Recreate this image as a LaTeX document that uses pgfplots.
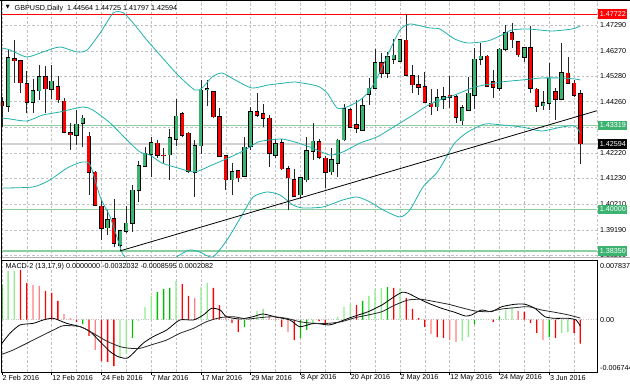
\documentclass[border=0pt]{standalone}
\usepackage{pgfplots}
\usepackage{pgfplotstable}
\pgfplotsset{compat=1.18}
\usepackage{fontspec}
\setmainfont{Liberation Sans}
\newfontfamily\symfont{DejaVu Sans}
\definecolor{bullc}{RGB}{60,179,113}
\definecolor{bearc}{RGB}{255,0,0}
\definecolor{bbc}{RGB}{32,178,170}
\definecolor{lvl}{RGB}{140,208,160}
\definecolor{lvlbox}{RGB}{60,179,113}
\definecolor{histG}{RGB}{0,190,0}
\definecolor{histLG}{RGB}{144,238,144}
\definecolor{histR}{RGB}{255,0,0}
\definecolor{histLR}{RGB}{255,128,128}
\definecolor{gridc}{RGB}{192,192,192}
\newcommand\lbl{\fontsize{7.2}{8}\selectfont}

\pgfplotstableread{
i o h l c
1 1.44088 1.46341 1.43851 1.45985
5 1.44246 1.45155 1.43811 1.44681
6 1.44681 1.45709 1.44325 1.45234
8 1.44760 1.45709 1.44364 1.45076
12 1.42942 1.43930 1.42546 1.43376
13 1.43416 1.43732 1.42467 1.43613
17 1.39265 1.39977 1.38988 1.39581
19 1.38593 1.39186 1.38356 1.39147
20 1.39147 1.40135 1.39068 1.39463
21 1.39463 1.40965 1.39107 1.40767
22 1.40767 1.41914 1.40293 1.41716
23 1.41716 1.42467 1.41677 1.42230
24 1.42190 1.42863 1.41281 1.42625
27 1.42151 1.43179 1.41163 1.42823
28 1.42783 1.44364 1.42507 1.43692
31 1.41479 1.42744 1.40491 1.42507
32 1.42507 1.45116 1.42190 1.44720
33 1.44740 1.45116 1.44088 1.44760
37 1.41163 1.41835 1.40570 1.41479
39 1.41321 1.42863 1.41281 1.42467
40 1.42507 1.44049 1.42348 1.43851
44 1.42151 1.42783 1.42032 1.42586
48 1.40570 1.41281 1.40412 1.41242
49 1.41163 1.42863 1.41084 1.42309
50 1.42309 1.43416 1.41953 1.42704
53 1.41479 1.42428 1.41360 1.41953
54 1.41835 1.42783 1.41281 1.42744
55 1.42744 1.44167 1.42704 1.43969
58 1.43139 1.44404 1.43100 1.44088
59 1.44562 1.45195 1.44127 1.44799
60 1.44799 1.46342 1.44760 1.45788
62 1.45392 1.46222 1.45195 1.46025
63 1.45946 1.46736 1.45748 1.46104
64 1.45867 1.46736 1.45827 1.46717
70 1.44049 1.44760 1.43890 1.44404
71 1.44364 1.44839 1.43969 1.44444
74 1.43495 1.44127 1.43337 1.44009
75 1.43930 1.45234 1.43890 1.44601
76 1.44523 1.46381 1.43969 1.45946
77 1.45946 1.46578 1.45709 1.46064
80 1.44799 1.46381 1.44681 1.46341
81 1.46341 1.47290 1.46262 1.46974
84 1.46025 1.46420 1.45827 1.46381
87 1.44088 1.44681 1.43930 1.44206
88 1.44206 1.45788 1.43930 1.45195
90 1.44364 1.46578 1.44325 1.45392
}\tbull

\pgfplotstableread{
i o h l c
0 1.44258 1.44455 1.43269 1.44088
2 1.45946 1.46697 1.44997 1.45867
3 1.45867 1.45906 1.44601 1.44997
4 1.44958 1.45472 1.43811 1.44246
7 1.45234 1.45669 1.43811 1.44760
9 1.44839 1.45274 1.44206 1.44325
10 1.44285 1.44404 1.43020 1.43060
11 1.43020 1.43416 1.42348 1.42942
14 1.42902 1.43060 1.40570 1.41479
15 1.41479 1.41519 1.40175 1.40175
16 1.40135 1.40372 1.38791 1.39265
18 1.39621 1.40412 1.38514 1.38672
25 1.42625 1.42744 1.42032 1.42151
26 1.42151 1.42428 1.41835 1.42131
29 1.43772 1.43851 1.42863 1.42942
30 1.43020 1.43060 1.41439 1.41519
34 1.44641 1.44681 1.43613 1.43653
35 1.43653 1.44009 1.42072 1.42111
36 1.42111 1.42151 1.40767 1.41163
38 1.41519 1.41558 1.41084 1.41242
41 1.43851 1.44601 1.43653 1.43732
42 1.43772 1.44167 1.43258 1.43613
43 1.43613 1.43732 1.41677 1.42230
45 1.42625 1.42783 1.41558 1.41598
46 1.41598 1.41716 1.39977 1.41242
47 1.41163 1.41598 1.40491 1.40530
51 1.42665 1.42783 1.41993 1.42072
52 1.42032 1.42111 1.40846 1.41479
56 1.43930 1.44009 1.43218 1.43258
57 1.43337 1.44325 1.43020 1.43218
61 1.45788 1.46183 1.45195 1.45392
65 1.46697 1.47722 1.45274 1.45313
66 1.45274 1.45709 1.44601 1.44918
67 1.44918 1.45313 1.44523 1.44839
68 1.44839 1.45432 1.44246 1.44246
69 1.44206 1.44760 1.43732 1.44049
72 1.44523 1.45274 1.44009 1.44444
73 1.44444 1.44523 1.43416 1.43653
78 1.46064 1.46104 1.44839 1.44878
79 1.45037 1.45511 1.44404 1.44839
82 1.46974 1.47369 1.46381 1.46697
83 1.46618 1.46657 1.46025 1.46104
85 1.46381 1.47250 1.44601 1.44799
86 1.44760 1.44799 1.43851 1.44088
89 1.44641 1.44799 1.43534 1.44364
91 1.45392 1.46025 1.44958 1.44997
92 1.44997 1.45116 1.44444 1.44523
93 1.44564 1.44725 1.41797 1.42594
}\tbear

\pgfplotsset{
  mt/.style={
    scale only axis, width=596pt, xmin=-0.145, xmax=95.68,
    clip mode=individual,
    grid style={gridc, dash pattern=on 2.5pt off 2pt, line width=0.5pt},
    tick style={black, line width=0.6pt},
  },
  wick/.style={draw=none, mark=none, forget plot, error bars/.cd, y dir=both, y explicit, error mark=none,
    error bar style={draw=black!85, line width=0.7pt}},
  bodyo/.style={draw=none, mark=none, forget plot, error bars/.cd, y dir=both, y explicit, error mark=none,
    error bar style={draw=black, line width=4.4pt}},
  bodyf/.style={draw=none, mark=none, forget plot, error bars/.cd, y dir=both, y explicit, error mark=none,
    error bar style={draw=#1, line width=3.0pt}},
  hist/.style={ybar, bar width=1.3pt, bar shift=0pt, fill=#1, draw=none, mark=none},
}
\tikzset{
  rl/.style={anchor=west, inner sep=0pt, font=\lbl, xshift=3pt},
  bx/.style={anchor=west, inner xsep=1.6pt, inner ysep=0pt, minimum height=9.5pt, font=\lbl, text=white, fill=#1, xshift=1pt},
}

\begin{document}
\begin{tikzpicture}[x=1pt,y=1pt]
\useasboundingbox (0,0) rectangle (630,388);
\fill[white] (0,0) rectangle (630,388);

% ---------------- main price panel ----------------
\begin{axis}[mt, at={(1pt,130pt)}, anchor=south west, height=257pt,
  axis line style={draw=none},
  ymin=1.38079, ymax=1.48238,
  xtick={0,4,...,92}, xticklabels={},
  ytick={1.3820,1.3919,1.4021,1.4123,1.4222,1.4324,1.4426,1.4528,1.4627,1.4729}, yticklabels={},
  xmajorgrids, ymajorgrids, major tick length=0pt]

\addplot[gray!35, line width=1.6pt, mark=none] coordinates {(-1,1.42594) (97,1.42594)};
\addplot[lvl, line width=1.6pt, mark=none] coordinates {(-1,1.43319) (97,1.43319)};
\addplot[lvl, line width=1.6pt, mark=none] coordinates {(-1,1.40000) (97,1.40000)};
\addplot[lvl, line width=1.6pt, mark=none] coordinates {(-1,1.38350) (97,1.38350)};
\addplot[red, line width=0.9pt, mark=none] coordinates {(-1,1.47722) (97,1.47722)};

% wicks
\addplot[wick] table[x=i, y expr={(\thisrow{h}+\thisrow{l})/2}, y error expr={(\thisrow{h}-\thisrow{l})/2}] {\tbull};
\addplot[wick] table[x=i, y expr={(\thisrow{h}+\thisrow{l})/2}, y error expr={(\thisrow{h}-\thisrow{l})/2}] {\tbear};
% bodies
\addplot[bodyo] table[x=i, y expr={(\thisrow{o}+\thisrow{c})/2}, y error expr={abs(\thisrow{c}-\thisrow{o})/2+0.0002}] {\tbull};
\addplot[bodyf=bullc] table[x=i, y expr={(\thisrow{o}+\thisrow{c})/2}, y error expr={abs(\thisrow{c}-\thisrow{o})/2}] {\tbull};
\addplot[bodyo] table[x=i, y expr={(\thisrow{o}+\thisrow{c})/2}, y error expr={abs(\thisrow{c}-\thisrow{o})/2+0.0002}] {\tbear};
\addplot[bodyf=bearc] table[x=i, y expr={(\thisrow{o}+\thisrow{c})/2}, y error expr={abs(\thisrow{c}-\thisrow{o})/2}] {\tbear};

% Bollinger bands
\addplot[bbc, line width=0.8pt, smooth, tension=0.4, mark=none] coordinates {(0,1.46381) (1.3,1.46302) (4.0,1.46025) (6.6,1.46222) (9.3,1.46420) (12.1,1.46222) (13.7,1.46302) (15.8,1.46974) (17.9,1.47764) (19.5,1.47776) (21.1,1.47369) (23.3,1.46697) (25.7,1.46025) (28.3,1.45313) (31.0,1.44720) (32.2,1.44799) (33.8,1.45234) (35.4,1.45392) (37.5,1.45116) (40.2,1.44799) (42.8,1.44918) (45.5,1.44997) (47.1,1.45037) (50.7,1.44878) (52.3,1.44601) (53.9,1.44009) (55.5,1.44049) (57.6,1.44325) (59.2,1.44720) (60.8,1.45432) (62.4,1.46302) (64.0,1.47092) (65.6,1.47329) (68.8,1.47171) (70.4,1.47132) (72.8,1.46736) (74.9,1.46578) (78.1,1.46657) (80.4,1.46895) (82.0,1.47092) (84.6,1.47132) (88.4,1.47053) (91.7,1.47132) (93,1.47250)};
\addplot[bbc, line width=0.8pt, smooth, tension=0.4, mark=none] coordinates {(0,1.43613) (1.3,1.43574) (4.0,1.43495) (6.6,1.43732) (9.3,1.43851) (13.0,1.44048) (14.6,1.43930) (17.4,1.43416) (20.1,1.42744) (22.2,1.42269) (23.8,1.42151) (25.7,1.41835) (28.3,1.41637) (31.0,1.41479) (33.8,1.41756) (36.4,1.42032) (39.1,1.42348) (41.2,1.42665) (43.1,1.42744) (45.0,1.42783) (47.1,1.42665) (49.5,1.42467) (52.7,1.42151) (54.8,1.42269) (57.6,1.42625) (60.3,1.42863) (63.5,1.43337) (66.1,1.43732) (68.3,1.44088) (70.4,1.44325) (72.8,1.44523) (76.1,1.44839) (80.4,1.45037) (83.6,1.45116) (86.8,1.45195) (90.0,1.45195) (92.1,1.45155) (93,1.45116)};
\addplot[bbc, line width=0.8pt, smooth, tension=0.4, mark=none] coordinates {(0,1.40846) (5.0,1.40886) (7.7,1.41163) (10.5,1.41637) (12.9,1.41874) (14.2,1.41756) (15.8,1.40491) (17.4,1.39700) (18.5,1.38909) (19.5,1.38198) (21.4,1.37842) (23.8,1.37723) (26.2,1.37763) (28.3,1.38158) (30.2,1.38395) (31.8,1.38316) (33.9,1.38119) (36.2,1.38791) (38.8,1.39858) (40.4,1.40491) (42.6,1.40688) (44.7,1.40570) (46.8,1.40175) (48.4,1.40056) (51.6,1.40096) (54.8,1.40372) (57.1,1.40491) (59.2,1.40293) (61.3,1.39977) (64.0,1.39700) (65.6,1.39977) (67.7,1.40886) (69.9,1.41439) (71.2,1.41953) (72.8,1.42625) (74.9,1.43060) (77.7,1.43376) (80.4,1.43337) (83.6,1.43258) (86.8,1.43100) (90.0,1.43258) (92.1,1.43297) (93,1.43020)};

% trend line
\addplot[black, line width=0.8pt, mark=none] coordinates {(19,1.3836) (95.68,1.43901)};

% price scale labels
\node[rl] at (axis cs:95.68,1.4729) {1.47290};
\node[rl] at (axis cs:95.68,1.4627) {1.46270};
\node[rl] at (axis cs:95.68,1.4528) {1.45280};
\node[rl] at (axis cs:95.68,1.4426) {1.44260};
\node[rl] at (axis cs:95.68,1.4222) {1.42220};
\node[rl] at (axis cs:95.68,1.4123) {1.41230};
\node[rl] at (axis cs:95.68,1.4021) {1.40210};
\node[rl] at (axis cs:95.68,1.3919) {1.39190};
\node[rl] at (axis cs:95.68,1.3820) {1.38200};
\node[bx=red] at (axis cs:95.68,1.47722) {1.47722};
\node[bx=lvlbox] at (axis cs:95.68,1.43319) {1.43319};
\node[bx=black] at (axis cs:95.68,1.42594) {1.42594};
\node[bx=lvlbox] at (axis cs:95.68,1.40000) {1.40000};
\node[bx=lvlbox] at (axis cs:95.68,1.38350) {1.38350};
\end{axis}

% separator above MACD
\draw[gray!60, line width=0.6pt] (0,131) -- (630,131);

% ---------------- MACD panel ----------------
\begin{axis}[mt, at={(1pt,16pt)}, anchor=south west, height=112pt,
  axis line style={black, line width=0.9pt},
  ymin=-0.00701, ymax=0.007973,
  xtick={0,8,...,88}, xticklabels={}, minor xtick={4,12,...,92},
  xtick pos=left, tick align=outside, major tick length=3pt, minor tick length=0pt,
  ytick=\empty, xmajorgrids, xminorgrids]

\addplot[gridc, dash pattern=on 1pt off 1.5pt, line width=0.6pt, mark=none] coordinates {(-1,0) (97,0)};

\addplot[hist=histG] coordinates {(0,0.00463) (13,-0.00059) (21,-0.00246) (25,0.00369) (26,0.00409) (27,0.00423) (39,-0.00099) (48,-0.00246) (49,-0.00139) (58,0.00249) (62,0.00436) (76,-0.00059) (80,0.00035) (88,-0.00233)};
\addplot[hist=histLG] coordinates {(1,0.00650) (2,0.00650) (19,-0.00514) (20,-0.00460) (22,-0.00019) (23,0.00169) (24,0.00316) (28,0.00516) (32,0.00436) (33,0.00490) (40,0.00005) (41,0.00115) (42,0.00142) (50,-0.00059) (53,-0.00005) (54,0.00035) (55,0.00169) (56,0.00209) (59,0.00316) (60,0.00409) (61,0.00423) (64,0.00423) (74,-0.00286) (75,-0.00233) (77,0.00005) (81,0.00128) (82,0.00169) (90,-0.00179) (91,-0.00166)};
\addplot[hist=histR] coordinates {(3,0.00664) (4,0.00490) (7,0.00383) (8,0.00356) (9,0.00249) (12,-0.00032) (14,-0.00219) (16,-0.00554) (17,-0.00567) (18,-0.00621) (29,0.00476) (30,0.00316) (34,0.00423) (35,0.00195) (37,-0.00045) (38,-0.00166) (45,-0.00099) (47,-0.00273) (51,-0.00019) (52,-0.00045) (57,0.00195) (63,0.00423) (65,0.00289) (66,0.00142) (67,0.00021) (68,-0.00099) (70,-0.00233) (71,-0.00246) (79,-0.00032) (84,0.00102) (85,-0.00045) (86,-0.00179) (89,-0.00246) (92,-0.00179) (93,-0.00320)};
\addplot[hist=histLR] coordinates {(5,0.00463) (6,0.00449) (10,0.00075) (11,0.00021) (15,-0.00406) (31,0.00289) (36,0.00035) (43,0.00035) (44,0.00021) (46,-0.00166) (69,-0.00193) (72,-0.00273) (73,-0.00300) (83,0.00115) (87,-0.00273)};

% MACD line
\addplot[black, line width=0.8pt, smooth, tension=0.4, mark=none] coordinates {(0,-0.00317) (1.3,-0.00183) (2.9,-0.00072) (5.05,-0.00050) (6.66,-0.00005) (8.27,0.00017) (10.4,-0.00050) (12.6,-0.00095) (14.2,-0.00162) (15.8,-0.00296) (17.4,-0.00429) (18.7,-0.00496) (20.1,-0.00518) (21.1,-0.00451) (22.7,-0.00317) (24.3,-0.00229) (26.5,-0.00139) (28.6,-0.00005) (30.8,-0.00005) (32.4,0.00062) (33.7,0.00151) (35.1,0.00128) (36.1,0.00039) (38.3,0.00008) (40.4,0.00039) (42.0,0.00075) (44.2,0.00031) (46.3,-0.00005) (47.9,-0.00095) (50.2,-0.00050) (52.5,-0.00072) (53.6,-0.00050) (55.7,0.00017) (57.3,0.00062) (58.9,0.00106) (61.1,0.00195) (62.7,0.00285) (64.3,0.00365) (65.3,0.00352) (66.9,0.00285) (68.6,0.00218) (70.7,0.00151) (72.8,0.00098) (74.5,0.00048) (75.5,0.00062) (77.1,0.00128) (78.7,0.00106) (80.4,0.00173) (82.5,0.00205) (84.1,0.00205) (85.7,0.00151) (87.3,0.00039) (88.9,0.00017) (91.1,0.00017) (92.3,-0.00005) (93,-0.00086)};
% signal line
\addplot[black!85, line width=0.8pt, smooth, tension=0.4, mark=none] coordinates {(0,-0.00465) (1.8,-0.00407) (4.0,-0.00317) (6.1,-0.00229) (8.3,-0.00139) (9.9,-0.00081) (12.6,-0.00095) (14.7,-0.00184) (16.8,-0.00286) (19.0,-0.00362) (20.6,-0.00384) (22.2,-0.00384) (24.3,-0.00331) (26.5,-0.00273) (28.6,-0.00184) (30.8,-0.00117) (32.9,-0.00028) (35.1,0.00026) (37.2,0.00039) (39.4,0.00008) (41.5,0.00026) (43.6,0.00039) (45.8,0.00017) (47.9,-0.00028) (50.1,-0.00050) (52.5,-0.00050) (54.6,-0.00028) (56.8,0.00026) (58.9,0.00062) (61.1,0.00106) (63.2,0.00195) (65.3,0.00262) (67.5,0.00271) (69.6,0.00240) (71.8,0.00205) (73.9,0.00159) (76.1,0.00115) (78.2,0.00106) (80.4,0.00142) (82.5,0.00159) (84.6,0.00173) (86.8,0.00128) (88.9,0.00098) (91.1,0.00062) (93,0.00021)};

\node[rl, yshift=-5pt] at (axis cs:95.68,0.007837) {0.007837};
\node[rl] at (axis cs:95.68,0) {0.00};
\node[rl, yshift=2pt] at (axis cs:95.68,-0.006744) {-0.006744};
\end{axis}

% frame pieces of the main panel
\draw[gridc, dash pattern=on 2.5pt off 2pt, line width=0.5pt] (597,130) -- (597,387);
\draw[black, line width=0.9pt] (1,16) -- (1,387.5);
\draw[black, line width=0.9pt] (0,387.5) -- (630,387.5);

% titles
\node[anchor=center, inner sep=0pt, font=\symfont\fontsize{5}{6}\selectfont] at (7.8,381) {▼};
\node[anchor=west, inner sep=0pt, font=\lbl] at (14.5,379.7) {GBPUSD,Daily\ \ 1.44564 1.44725 1.41797 1.42594};
\node[anchor=west, inner sep=0pt, font=\lbl] at (5.5,121.3) {MACD-2 (13,17,9) 0.0000000 -0.0032032 -0.0008595 0.0002082};

% date labels
\foreach \xx/\dd in {1.9/2 Feb 2016, 51.66/12 Feb 2016, 101.4/24 Feb 2016, 151.2/7 Mar 2016, 200.9/17 Mar 2016, 250.7/29 Mar 2016, 300.5/8 Apr 2016, 350.2/20 Apr 2016, 400.0/2 May 2016, 449.7/12 May 2016, 499.5/24 May 2016, 549.3/3 Jun 2016}
  \node[anchor=west, inner sep=0pt, font=\lbl] at (\xx+0.5,10) {\dd};
\end{tikzpicture}
\end{document}
